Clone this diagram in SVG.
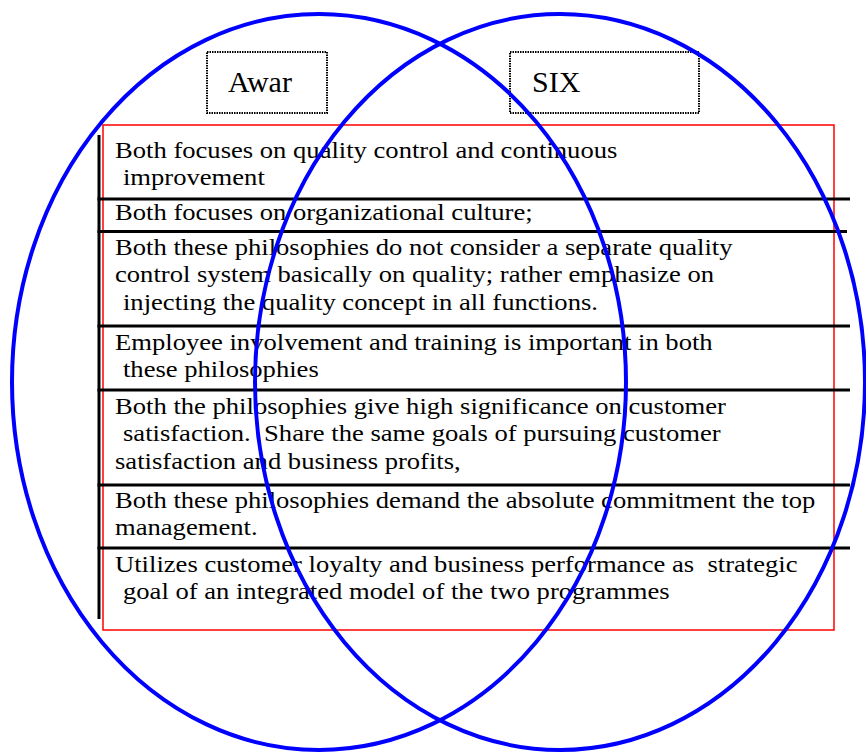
<svg xmlns="http://www.w3.org/2000/svg" width="866" height="752" viewBox="0 0 866 752">
  <style>
    .body { font-family: "Liberation Serif", "Times New Roman", serif; font-size: 23px; fill: #000; white-space: pre; }
    .title { font-family: "Liberation Serif", "Times New Roman", serif; font-size: 30px; fill: #000; }
    .tag { fill: none; stroke: #000; stroke-width: 2; stroke-dasharray: 1.5 1; }
    .rule { stroke: #000; stroke-width: 3; }
    .set { fill: none; stroke: #0000ff; stroke-width: 4; }
  </style>
  <rect width="866" height="752" fill="#fff"/>

  <!-- shared-points table -->
  <g id="table">
    <rect x="103" y="125" width="731" height="505" fill="none" stroke="#ff0000" stroke-width="1.5"/>
    <line class="rule" x1="99" y1="135" x2="99" y2="619"/>
    <line class="rule" x1="97.5" y1="199" x2="850" y2="199"/>
    <line class="rule" x1="97.5" y1="231.5" x2="847" y2="231.5"/>
    <line class="rule" x1="97.5" y1="326" x2="850" y2="326"/>
    <line class="rule" x1="97.5" y1="390" x2="850" y2="390"/>
    <line class="rule" x1="97.5" y1="485" x2="850" y2="485"/>
    <line class="rule" x1="97.5" y1="548" x2="850" y2="548"/>
    <g transform="translate(115 0) scale(1.157 1)">
      <text class="body" x="0" y="158">Both focuses on quality control and continuous</text>
      <text class="body" x="6.9" y="185.5">improvement</text>
      <text class="body" x="0" y="220">Both focuses on organizational culture;</text>
      <text class="body" x="0" y="255">Both these philosophies do not consider a separate quality</text>
      <text class="body" x="0" y="282.5">control system basically on quality; rather emphasize on</text>
      <text class="body" x="6.9" y="310">injecting the quality concept in all functions.</text>
      <text class="body" x="0" y="350">Employee involvement and training is important in both</text>
      <text class="body" x="6.9" y="377.5">these philosophies</text>
      <text class="body" x="0" y="414">Both the philosophies give high significance on customer</text>
      <text class="body" x="6.9" y="441.5">satisfaction.  Share the same goals of pursuing customer</text>
      <text class="body" x="0" y="469">satisfaction and business profits,</text>
      <text class="body" x="0" y="508">Both these philosophies demand the absolute commitment the top</text>
      <text class="body" x="0" y="535.5">management.</text>
      <text class="body" x="0" y="572">Utilizes customer loyalty and business performance as  strategic</text>
      <text class="body" x="6.9" y="599.5">goal of an integrated model of the two programmes</text>
    </g>
  </g>

  <!-- set labels -->
  <g id="awar">
    <rect class="tag" x="207" y="52" width="120" height="61"/>
    <text class="title" x="228" y="92">Awar</text>
  </g>
  <g id="six">
    <rect class="tag" x="510" y="52" width="189" height="61"/>
    <text class="title" x="532" y="92">SIX</text>
  </g>

  <!-- the two overlapping sets -->
  <g id="sets">
    <ellipse class="set" cx="319" cy="382" rx="307" ry="368"/>
    <ellipse class="set" cx="560" cy="382" rx="305" ry="368"/>
  </g>
</svg>
